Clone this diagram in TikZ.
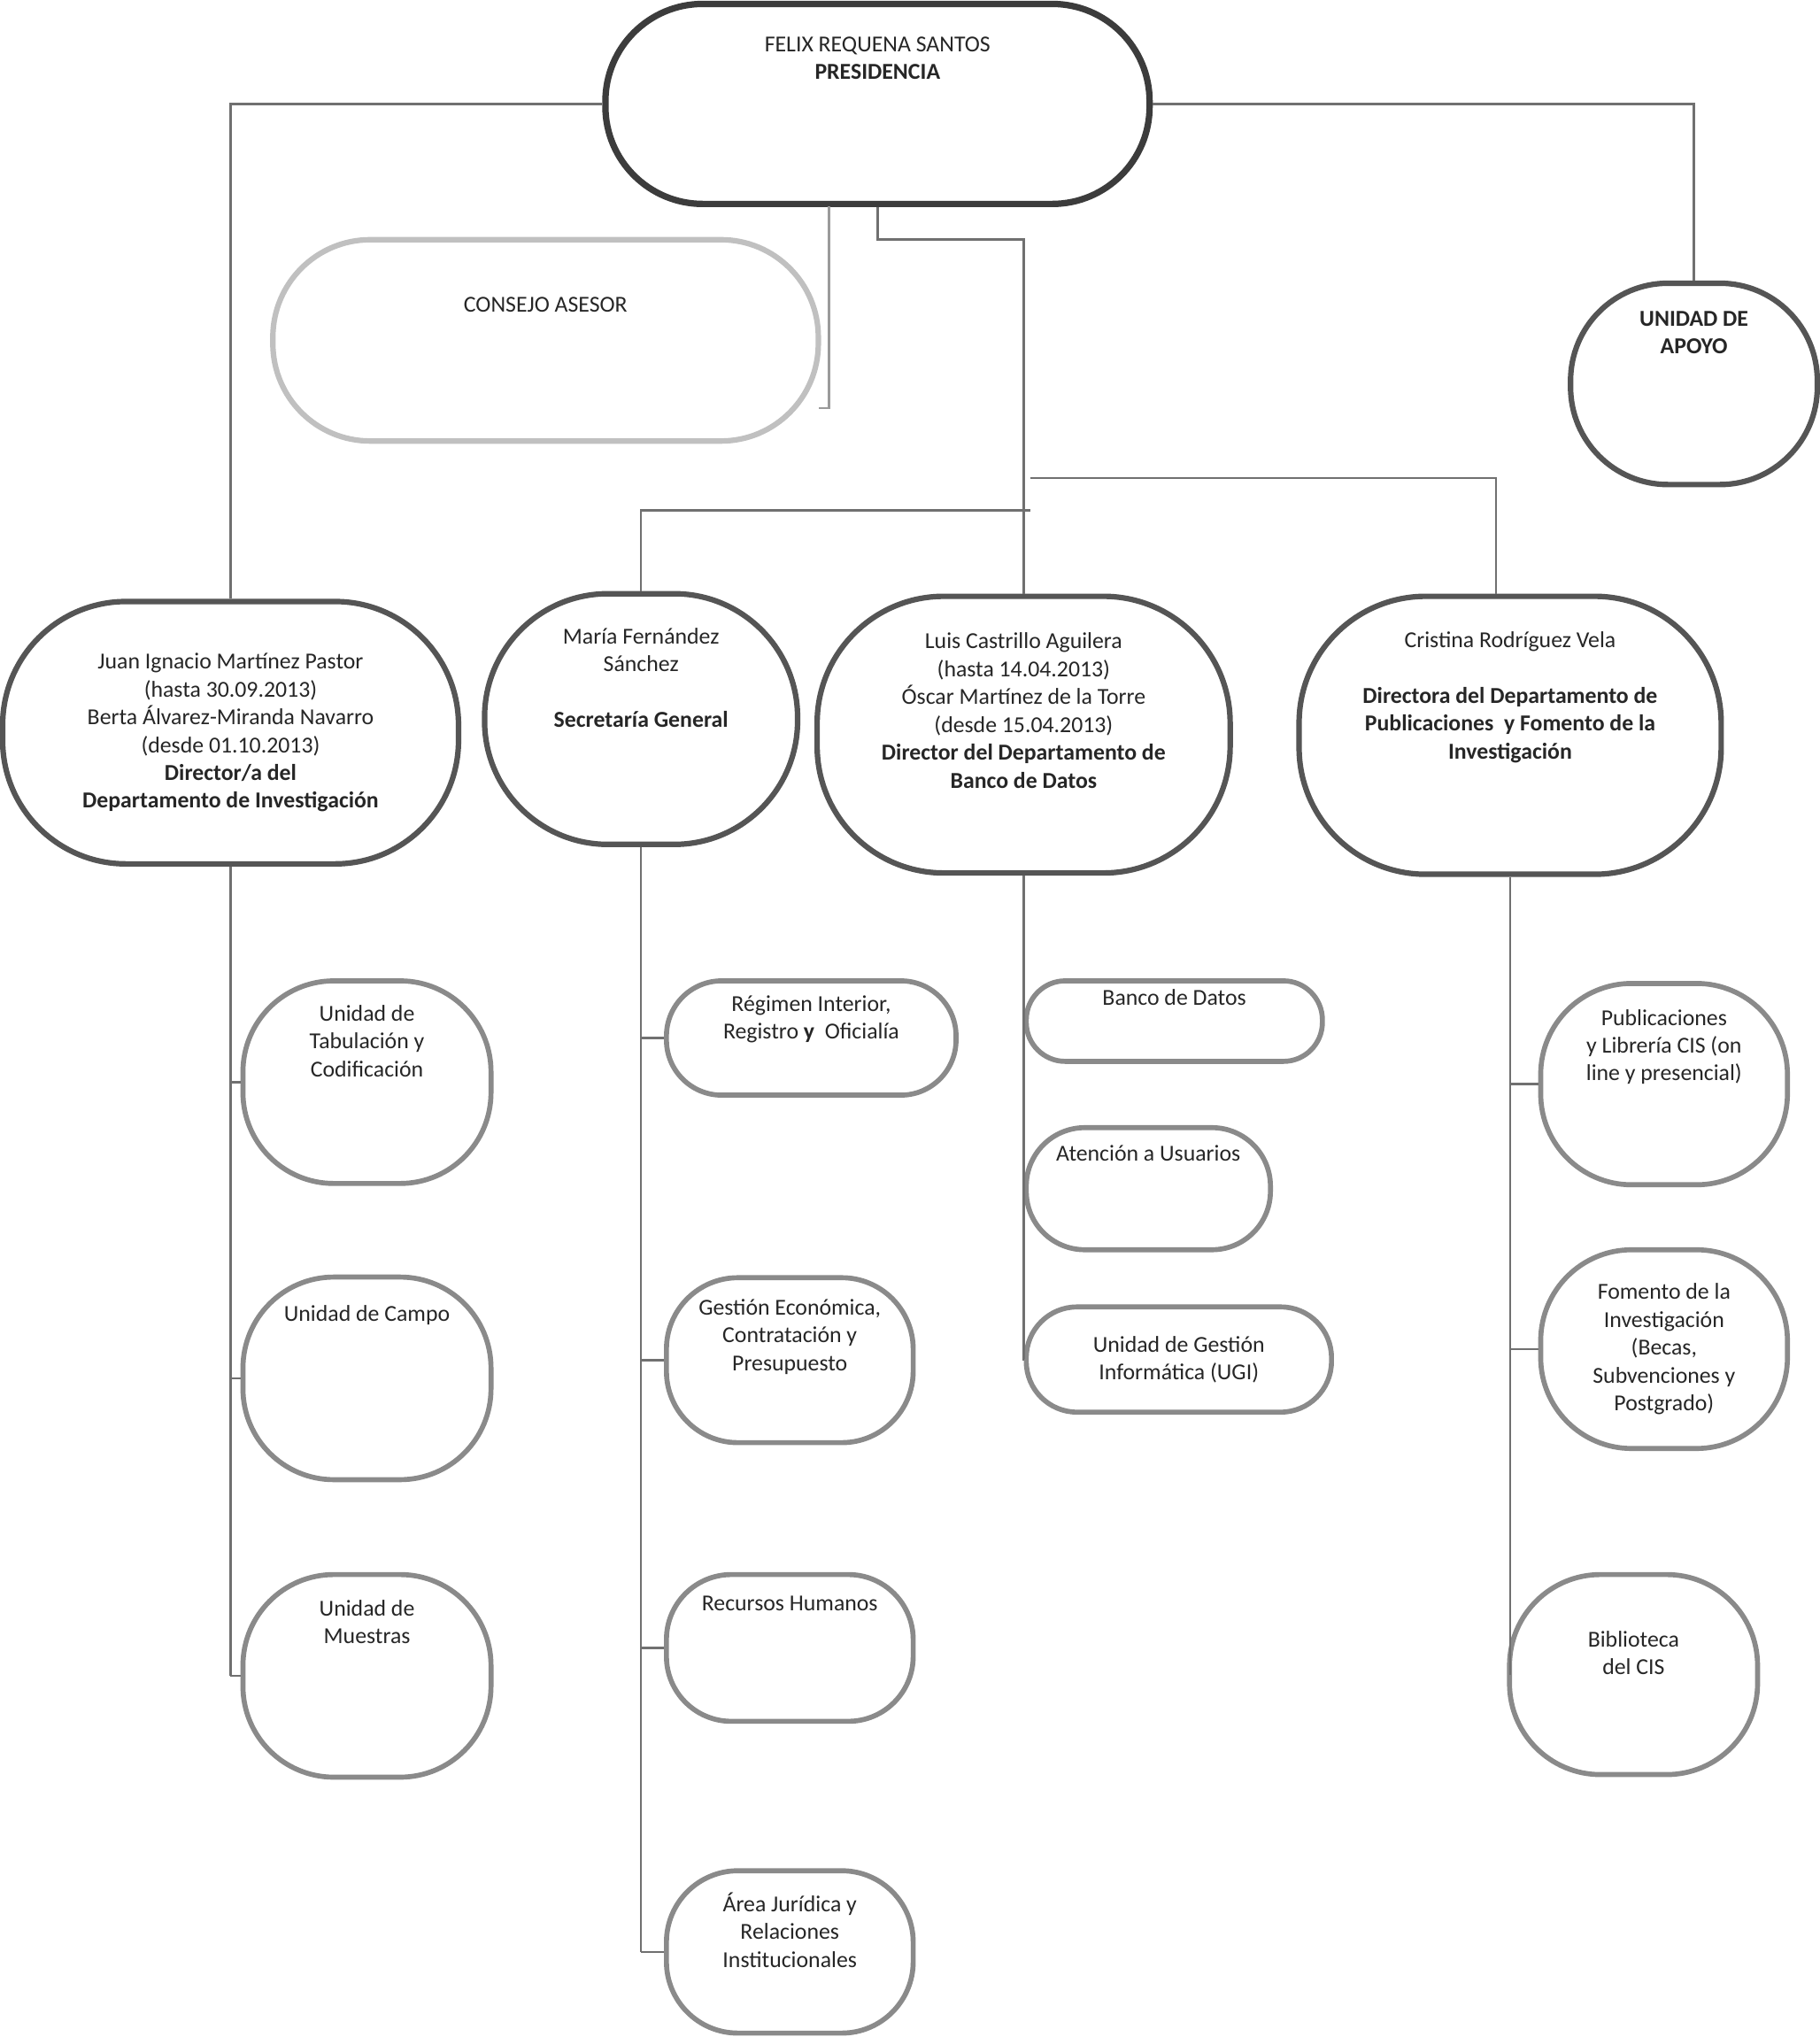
\documentclass[tikz,border=0pt]{standalone}
\usepackage{fontspec}
\setmainfont{Carlito}
\usetikzlibrary{positioning}
\definecolor{topgray}{HTML}{3C3C3C}
\definecolor{depgray}{HTML}{555555}
\definecolor{unitgray}{HTML}{8A8A8A}
\definecolor{lightgray}{HTML}{C0C0C0}
\definecolor{linegray}{HTML}{707070}
\tikzset{
  box/.style={rectangle, rounded corners=#1, align=center, fill=white,
    font=\fontsize{10}{12.2}\selectfont, text=black!85},
  jefe/.style={box=#1, draw=topgray, line width=2.8pt},
  dep/.style={box=#1, draw=depgray, line width=2.4pt},
  unidad/.style={box=#1, draw=unitgray, line width=2.2pt},
  asesor/.style={box=#1, draw=lightgray, line width=2.4pt},
  enlace/.style={draw=linegray, line width=1pt}
}
\begin{document}
\begin{tikzpicture}[x=0.02cm,y=-0.02cm]
\useasboundingbox (0,0) rectangle (1401,1568);
% direccion
\node[jefe=1.5cm, minimum width=8.38cm, minimum height=3.08cm] (pres) at (675.5,80) {FELIX REQUENA SANTOS\\ \textbf{PRESIDENCIA}\\[28pt]};
\node[asesor=1.5cm, minimum width=8.4cm, minimum height=3.1cm] (consejo) at (420,262) {CONSEJO ASESOR\\[19pt]};
\node[dep=1.5cm, minimum width=3.8cm, minimum height=3.1cm] (apoyo) at (1304,295.5) {\textbf{UNIDAD DE}\\ \textbf{APOYO}\\[33pt]};
% departamentos
\node[dep=1.9cm, minimum width=7.02cm, minimum height=4.04cm] (d1) at (177.5,564) {Juan Ignacio Martínez Pastor\\ (hasta 30.09.2013)\\ Berta Álvarez-Miranda Navarro\\ (desde 01.10.2013)\\ \textbf{Director/a del}\\ \textbf{Departamento de Investigación}};
\node[dep=1.9cm, minimum width=4.82cm, minimum height=3.86cm] (d2) at (493.5,553.5) {María Fernández\\ Sánchez\\ \\ \textbf{Secretaría General}\\[24pt]};
\node[dep=1.95cm, minimum width=6.36cm, minimum height=4.26cm] (d3) at (788,565.5) {Luis Castrillo Aguilera\\ (hasta 14.04.2013)\\ Óscar Martínez de la Torre\\ (desde 15.04.2013)\\ \textbf{Director del Departamento de}\\ \textbf{Banco de Datos}\\[9pt]};
\node[dep=1.95cm, minimum width=6.5cm, minimum height=4.28cm] (d4) at (1162.5,566) {Cristina Rodríguez Vela\\ \\ \textbf{Directora del Departamento de}\\ \textbf{Publicaciones\ \ y Fomento de la}\\ \textbf{Investigación}\\[23pt]};
% unidades
\node[unidad=1.4cm, minimum width=3.82cm, minimum height=3.12cm] (tab) at (282.5,833) {Unidad de\\ Tabulación y\\ Codificación\\[24pt]};
\node[unidad=1.4cm, minimum width=3.82cm, minimum height=3.12cm] (campo) at (282.5,1061) {Unidad de Campo\\[45pt]};
\node[unidad=1.4cm, minimum width=3.82cm, minimum height=3.12cm] (muestras) at (282.5,1290) {Unidad de\\ Muestras\\[35pt]};
\node[unidad=0.85cm, minimum width=4.46cm, minimum height=1.76cm] (reg) at (624.5,799) {Régimen Interior,\\ Registro \textbf{y}\ \ Oficialía\\[6pt]};
\node[unidad=1.1cm, minimum width=3.8cm, minimum height=2.54cm] (gest) at (608,1047) {Gestión Económica,\\ Contratación y\\ Presupuesto\\[10pt]};
\node[unidad=1.0cm, minimum width=3.8cm, minimum height=2.26cm] (rrhh) at (608,1268.5) {Recursos Humanos\\[27pt]};
\node[unidad=1.1cm, minimum width=3.8cm, minimum height=2.5cm] (area) at (608,1502.5) {Área Jurídica y\\ Relaciones\\ Institucionales\\[7pt]};
\node[unidad=0.6cm, minimum width=4.56cm, minimum height=1.24cm] (banco) at (904,786) {Banco de Datos\\[9pt]};
\node[unidad=0.9cm, minimum width=3.76cm, minimum height=1.88cm] (aten) at (884,915) {Atención a Usuarios\\[19pt]};
\node[unidad=0.78cm, minimum width=4.7cm, minimum height=1.62cm] (ugi) at (907.5,1046.5) {Unidad de Gestión\\ Informática (UGI)};
\node[unidad=1.4cm, minimum width=3.8cm, minimum height=3.1cm] (pub) at (1281,834.5) {Publicaciones\\ y Librería CIS (on\\ line y presencial)\\[22pt]};
\node[unidad=1.4cm, minimum width=3.8cm, minimum height=3.06cm] (fom) at (1281,1038.5) {Fomento de la\\ Investigación\\ (Becas,\\ Subvenciones y\\ Postgrado)};
\node[unidad=1.4cm, minimum width=3.82cm, minimum height=3.08cm] (bib) at (1257.5,1289) {Biblioteca\\ del CIS\\[7pt]};
% enlaces
\coordinate (pc) at (638,159);
\coordinate (ce) at (630,314);
\coordinate (jl) at (793,393);
\coordinate (jr) at (793,368);
\draw[enlace] (pres.west) -| (d1.north);
\draw[enlace] (pres.east) -| (apoyo.north);
\draw[enlace, draw=lightgray!80!black] (pc) |- (ce);
\draw[enlace] (pres.south) -- ++(0,25) -| (d3.north);
\draw[enlace] (jl) -| (d2.north);
\draw[enlace] (jr) -| ([xshift=-0.22cm]d4.north);
\draw[enlace] (d1.south) -- (d1.south |- muestras.west);
\foreach \u in {tab,campo,muestras}
  \draw[enlace] (d1.south |- \u.west) -- (\u.west);
\draw[enlace] (d2.south) -- (d2.south |- area.west);
\foreach \u in {reg,gest,rrhh,area}
  \draw[enlace] (d2.south |- \u.west) -- (\u.west);
\draw[enlace] (d3.south) -- (d3.south |- ugi.west) -- (ugi.west);
\draw[enlace] (d4.south) -- (d4.south |- bib.west);
\foreach \u in {pub,fom}
  \draw[enlace] (d4.south |- \u.west) -- (\u.west);
\end{tikzpicture}
\end{document}
